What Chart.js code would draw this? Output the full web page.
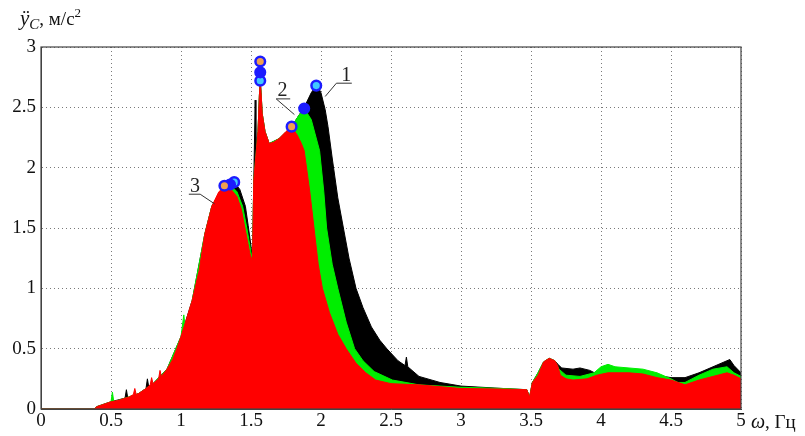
<!DOCTYPE html>
<html><head><meta charset="utf-8">
<script src="https://cdn.jsdelivr.net/npm/chart.js@4/dist/chart.umd.min.js"></script>
<style>html,body{margin:0;padding:0;background:#fff}#wrap{width:805px;height:436px}</style>
</head><body><div id="wrap"><canvas id="c" width="805" height="436"></canvas></div>
<script>
// Curve 3 (red)
const redX = [0,0.38,0.4,0.45,0.5,0.55,0.6,0.63,0.66,0.67,0.68,0.7,0.75,0.78,0.79,0.8,0.84,0.85,0.86,0.9,0.94,0.97,1.0,1.04,1.08,1.13,1.17,1.22,1.27,1.31,1.35,1.4,1.43,1.46,1.49,1.51,1.52,1.535,1.55,1.56,1.566,1.572,1.58,1.6,1.63,1.66,1.7,1.75,1.79,1.83,1.86,1.88,1.92,1.95,1.98,2.01,2.06,2.12,2.18,2.25,2.32,2.39,2.5,2.7,3.0,3.3,3.47,3.49,3.51,3.55,3.59,3.63,3.67,3.69,3.71,3.75,3.8,3.9,3.97,4.05,4.2,4.3,4.4,4.5,4.6,4.7,4.8,4.9,4.95,5.0];
const redY = [0,0,0.02,0.04,0.06,0.07,0.09,0.1,0.12,0.17,0.12,0.13,0.17,0.2,0.26,0.21,0.25,0.32,0.27,0.33,0.41,0.5,0.6,0.75,0.9,1.15,1.45,1.68,1.8,1.84,1.83,1.76,1.66,1.48,1.3,1.22,1.9,2.1,2.3,2.6,2.72,2.62,2.45,2.3,2.2,2.21,2.24,2.3,2.34,2.27,2.2,2.14,1.8,1.5,1.2,1.0,0.8,0.62,0.5,0.38,0.3,0.24,0.21,0.2,0.17,0.165,0.16,0.1,0.22,0.28,0.39,0.42,0.4,0.36,0.28,0.25,0.24,0.25,0.28,0.3,0.3,0.29,0.26,0.24,0.2,0.24,0.27,0.3,0.28,0.25];
// Curve 2 (green)
const greenX = [0,0.38,0.4,0.5,0.51,0.52,0.6,0.7,0.8,0.9,1.0,1.02,1.03,1.08,1.17,1.22,1.28,1.35,1.4,1.44,1.47,1.5,1.51,1.52,1.535,1.55,1.56,1.566,1.572,1.58,1.6,1.63,1.7,1.79,1.84,1.88,1.93,1.99,2.02,2.04,2.08,2.12,2.18,2.24,2.3,2.38,2.51,2.7,3.0,3.3,3.47,3.49,3.51,3.55,3.59,3.63,3.67,3.7,3.75,3.85,3.95,4.0,4.05,4.1,4.2,4.3,4.4,4.5,4.55,4.6,4.7,4.8,4.9,4.95,5.0];
const greenY = [0,0,0.02,0.06,0.14,0.06,0.09,0.13,0.21,0.33,0.6,0.78,0.68,0.9,1.45,1.68,1.8,1.86,1.8,1.68,1.5,1.3,1.22,1.9,2.1,2.3,2.6,2.72,2.62,2.45,2.3,2.2,2.24,2.34,2.43,2.49,2.4,2.14,1.8,1.5,1.2,1.0,0.72,0.5,0.4,0.31,0.24,0.2,0.18,0.17,0.16,0.1,0.22,0.3,0.39,0.42,0.4,0.33,0.28,0.27,0.3,0.35,0.37,0.35,0.34,0.33,0.3,0.25,0.22,0.22,0.28,0.33,0.35,0.3,0.27];
// Curve 1 (black)
const blackX = [0,0.38,0.4,0.5,0.6,0.61,0.62,0.7,0.75,0.76,0.77,0.8,0.9,1.0,1.08,1.17,1.22,1.28,1.38,1.42,1.46,1.48,1.5,1.51,1.52,1.53,1.535,1.55,1.56,1.566,1.572,1.58,1.6,1.63,1.7,1.79,1.84,1.88,1.93,1.97,2.0,2.03,2.05,2.08,2.12,2.16,2.2,2.25,2.3,2.36,2.42,2.47,2.55,2.6,2.61,2.62,2.7,2.85,3.0,3.3,3.47,3.49,3.51,3.55,3.59,3.63,3.67,3.7,3.72,3.8,3.85,3.92,3.97,4.05,4.2,4.3,4.4,4.5,4.6,4.7,4.8,4.9,4.92,4.95,5.0];
const blackY = [0,0,0.02,0.06,0.09,0.16,0.09,0.13,0.17,0.25,0.18,0.21,0.33,0.6,0.9,1.45,1.68,1.8,1.88,1.82,1.68,1.52,1.35,1.22,1.9,2.56,2.15,2.3,2.6,2.72,2.62,2.45,2.3,2.2,2.24,2.34,2.43,2.5,2.62,2.69,2.62,2.48,2.34,2.08,1.75,1.5,1.25,1.0,0.84,0.68,0.57,0.5,0.4,0.36,0.43,0.35,0.27,0.22,0.19,0.17,0.16,0.1,0.22,0.3,0.39,0.42,0.4,0.36,0.34,0.33,0.34,0.32,0.29,0.3,0.3,0.3,0.28,0.26,0.26,0.3,0.35,0.4,0.41,0.36,0.3];
// Peak markers
const markOrangeX = [1.31,1.566,1.79], markOrangeY = [1.85,2.88,2.34];
const markBlueX = [1.35,1.566,1.88], markBlueY = [1.86,2.79,2.49];
const markCyanX = [1.38,1.566,1.966], markCyanY = [1.88,2.72,2.68];
// Ticks
const xTicks = [0,0.5,1,1.5,2,2.5,3,3.5,4,4.5,5];
const xTickLabels = ['0','0.5','1','1.5','2','2.5','3','3.5','4','4.5','5'];
const yTicks = [0,0.5,1,1.5,2,2.5,3];
const yTickLabels = ['0','0.5','1','1.5','2','2.5','3'];

const pts = (xs, ys) => xs.map((x, i) => ({x, y: ys[i]}));
const area = (xs, ys, col, ord) => ({data: pts(xs, ys), borderColor: col, backgroundColor: col, borderWidth: 1, fill: 'origin', pointRadius: 0, tension: 0, order: ord});
const marks = (xs, ys, inner) => ({data: pts(xs, ys), showLine: false, pointRadius: 4.8, pointBorderWidth: 2.5, pointBorderColor: '#1c1cff', pointBackgroundColor: inner, order: -1});

const SERIF = "'Liberation Serif', 'DejaVu Serif', serif";

const deco = {
  id: 'deco',
  afterDatasetsDraw(chart) {
    const {ctx, chartArea: a, scales: {x, y}} = chart;
    const P = (vx, vy) => [x.getPixelForValue(vx), y.getPixelForValue(vy)];
    ctx.save();
    // frame
    ctx.strokeStyle = '#444'; ctx.lineWidth = 1.2;
    ctx.strokeRect(a.left, a.top, a.right - a.left, a.bottom - a.top);
    // curve labels with leader lines
    ctx.strokeStyle = '#333'; ctx.lineWidth = 1;
    const leader = (pts) => { ctx.beginPath(); pts.forEach((p, i) => { const q = P(p[0], p[1]); i ? ctx.lineTo(q[0], q[1]) : ctx.moveTo(q[0], q[1]); }); ctx.stroke(); };
    leader([[2.22, 2.70], [2.11, 2.70], [2.03, 2.59]]);
    leader([[1.78, 2.57], [1.68, 2.57], [1.81, 2.44]]);
    leader([[1.056, 1.78], [1.137, 1.78], [1.24, 1.70]]);
    ctx.fillStyle = '#222';
    ctx.font = '20px ' + SERIF;
    ctx.textAlign = 'center'; ctx.textBaseline = 'alphabetic';
    let q = P(2.18, 2.72); ctx.fillText('1', q[0], q[1]);
    q = P(1.725, 2.59); ctx.fillText('2', q[0], q[1]);
    q = P(1.10, 1.80); ctx.fillText('3', q[0], q[1]);
    // axis titles
    ctx.textAlign = 'left'; ctx.fillStyle = '#111';
    let cx = 20;
    ctx.font = 'italic 21px ' + SERIF; ctx.fillText('ÿ', cx, 25); cx += ctx.measureText('ÿ').width;
    ctx.font = 'italic 15px ' + SERIF; ctx.fillText('C', cx, 29); cx += ctx.measureText('C').width;
    ctx.font = '19px ' + SERIF; ctx.fillText(', м/с', cx, 25); cx += ctx.measureText(', м/с').width;
    ctx.font = '13px ' + SERIF; ctx.fillText('2', cx, 17);
    cx = 751;
    ctx.font = 'italic 20px ' + SERIF; ctx.fillText('ω', cx, 428); cx += ctx.measureText('ω').width;
    ctx.font = '19px ' + SERIF; ctx.fillText(', Гц', cx, 428);
    ctx.restore();
  }
};

new Chart(document.getElementById('c'), {
  type: 'line',
  data: {
    datasets: [
      area(redX, redY, '#ff0000', 0),
      area(greenX, greenY, '#00ee00', 1),
      area(blackX, blackY, '#000000', 2),
      marks(markOrangeX, markOrangeY, '#f0a050'),
      marks(markBlueX, markBlueY, '#1c1cff'),
      marks(markCyanX, markCyanY, '#40c8ff')
    ]
  },
  options: {
    responsive: false, animation: false, events: [],
    layout: {padding: {left: 0, right: 64, top: 47, bottom: 0}},
    plugins: {legend: {display: false}, tooltip: {enabled: false}},
    scales: {
      x: {
        type: 'linear', min: 0, max: 5,
        afterBuildTicks: s => { s.ticks = xTicks.map(v => ({value: v})); },
        afterFit: s => { s.height = 27; },
        ticks: {color: '#111', font: {family: SERIF, size: 19}, padding: 1, maxRotation: 0, autoSkip: false,
                callback: (v, i) => xTickLabels[i]},
        grid: {color: '#7a7a7a', lineWidth: 1, drawTicks: false},
        border: {display: true, color: '#444', dash: [1, 3]}
      },
      y: {
        type: 'linear', min: 0, max: 3,
        afterBuildTicks: s => { s.ticks = yTicks.map(v => ({value: v})); },
        afterFit: s => { s.width = 41; },
        ticks: {color: '#111', font: {family: SERIF, size: 19}, padding: 5,
                callback: (v, i) => yTickLabels[i]},
        grid: {color: '#7a7a7a', lineWidth: 1, drawTicks: false},
        border: {display: true, color: '#444', dash: [1, 3]}
      }
    }
  },
  plugins: [deco]
});
</script></body></html>
